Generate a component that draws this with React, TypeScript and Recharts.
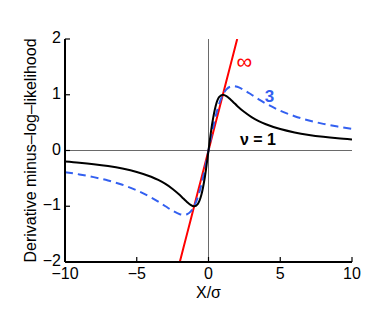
import { LineChart, Line, XAxis, YAxis, ReferenceLine, ReferenceDot } from "recharts";

const FONT = "'Liberation Sans', Arial, Helvetica, sans-serif";

// x positions (X/sigma)
const xs = [-10, -9, -8, -7, -6, -5, -4, -3.5, -3, -2.5, -2, -1.75, -1.5, -1.25, -1, -0.75, -0.5, -0.25, 0,
  0.25, 0.5, 0.75, 1, 1.25, 1.5, 1.75, 2, 2.5, 3, 3.5, 4, 5, 6, 7, 8, 9, 10];

// nu = 1
const nu1 = [-0.198, -0.2195, -0.2462, -0.28, -0.3243, -0.3846, -0.4706, -0.5283, -0.6, -0.6897, -0.8, -0.8615,
  -0.9231, -0.9756, -1, -0.96, -0.8, -0.4706, 0, 0.4706, 0.8, 0.96, 1, 0.9756, 0.9231, 0.8615, 0.8, 0.6897, 0.6,
  0.5283, 0.4706, 0.3846, 0.3243, 0.28, 0.2462, 0.2195, 0.198];

// nu = 3
const nu3 = [-0.3883, -0.4286, -0.4776, -0.5385, -0.6154, -0.7143, -0.8421, -0.918, -1, -1.0811, -1.1429, -1.1546,
  -1.1429, -1.0959, -1, -0.8421, -0.6154, -0.3265, 0, 0.3265, 0.6154, 0.8421, 1, 1.0959, 1.1429, 1.1546, 1.1429,
  1.0811, 1, 0.918, 0.8421, 0.7143, 0.6154, 0.5385, 0.4776, 0.4286, 0.3883];

// nu = infinity (gaussian), only inside the visible range
const nuInf = [null, null, null, null, null, null, null, null, null, null, -2, -1.75, -1.5, -1.25, -1, -0.75, -0.5,
  -0.25, 0, 0.25, 0.5, 0.75, 1, 1.25, 1.5, 1.75, 2, null, null, null, null, null, null, null, null, null, null];

const xTicks = [-10, -5, 0, 5, 10];
const yTicks = [-2, -1, 0, 1, 2];

const data = xs.map((x, i) => ({ x, nu1: nu1[i], nu3: nu3[i], inf: nuInf[i] }));

const fmt = (v: number) => (v < 0 ? "\u2212" + Math.abs(v) : String(v));

const BottomTick = ({ x, y, payload }: any) => (
  <g>
    <line x1={x} x2={x} y1={y} y2={y - 5} stroke="#000" strokeWidth={1.2} />
    <text x={x} y={y + 17} textAnchor="middle" fontSize={16} fontFamily={FONT} fill="#000">
      {fmt(payload.value)}
    </text>
  </g>
);

const TopTick = ({ x, y }: any) => (
  <line x1={x} x2={x} y1={y} y2={y + 5} stroke="#000" strokeWidth={1.2} />
);

const LeftTick = ({ x, y, payload }: any) => (
  <g>
    <line x1={x} x2={x + 5} y1={y} y2={y} stroke="#000" strokeWidth={1.2} />
    <text x={x - 4} y={y + 4} textAnchor="end" fontSize={16} fontFamily={FONT} fill="#000">
      {fmt(payload.value)}
    </text>
  </g>
);

const RightTick = ({ x, y }: any) => (
  <line x1={x} x2={x - 5} y1={y} y2={y} stroke="#000" strokeWidth={1.2} />
);

const axisLine = { stroke: "#000", strokeWidth: 2 };

export default function App() {
  return (
    <div style={{ position: "absolute", left: 0, top: 0 }}>
      <LineChart width={382} height={309} data={data} margin={{ top: 39, right: 30, bottom: 7, left: 5 }}>
        <XAxis
          dataKey="x"
          type="number"
          domain={[-10, 10]}
          ticks={xTicks}
          axisLine={axisLine}
          tickLine={false}
          tickSize={0}
          tickMargin={0}
          tick={<BottomTick />}
          height={40}
          label={{ value: "X/\u03c3", position: "insideBottom", offset: 4, fontSize: 16, fontFamily: FONT, fill: "#000" }}
        />
        <XAxis
          xAxisId="top"
          orientation="top"
          dataKey="x"
          type="number"
          domain={[-10, 10]}
          ticks={xTicks}
          axisLine={axisLine}
          tickLine={false}
          tickSize={0}
          tickMargin={0}
          tick={<TopTick />}
          height={0}
        />
        <YAxis
          type="number"
          domain={[-2, 2]}
          ticks={yTicks}
          allowDataOverflow
          axisLine={axisLine}
          tickLine={false}
          tickSize={0}
          tickMargin={0}
          tick={<LeftTick />}
          width={60}
          label={{
            value: "Derivative minus\u2013log\u2013likelihood",
            angle: -90,
            position: "insideLeft",
            offset: 25,
            style: { textAnchor: "middle" },
            fontSize: 16,
            fontFamily: FONT,
            fill: "#000",
          }}
        />
        <YAxis
          yAxisId="right"
          orientation="right"
          type="number"
          domain={[-2, 2]}
          ticks={yTicks}
          axisLine={axisLine}
          tickLine={false}
          tickSize={0}
          tickMargin={0}
          tick={<RightTick />}
          width={0}
        />
        <ReferenceLine x={0} stroke="#444" strokeWidth={0.8} />
        <ReferenceLine y={0} stroke="#444" strokeWidth={0.8} />
        <Line dataKey="inf" type="linear" stroke="#ff0000" strokeWidth={2} dot={false} isAnimationActive={false} />
        <Line
          dataKey="nu3"
          type="monotone"
          stroke="#3360f0"
          strokeWidth={2}
          strokeDasharray="8 5"
          dot={false}
          isAnimationActive={false}
        />
        <Line dataKey="nu1" type="monotone" stroke="#000" strokeWidth={2} dot={false} isAnimationActive={false} />
        <ReferenceDot
          x={2.5}
          y={1.6}
          r={0}
          label={{ value: "\u221e", position: "center", fontSize: 22, fontFamily: FONT, fill: "#ff0000" }}
        />
        <ReferenceDot
          x={4.25}
          y={0.97}
          r={0}
          label={{ value: "3", position: "center", fontSize: 17, fontWeight: "bold", fontFamily: FONT, fill: "#3360f0" }}
        />
        <ReferenceDot
          x={3.45}
          y={0.2}
          r={0}
          label={{ value: "\u03bd = 1", position: "center", fontSize: 16, fontWeight: "bold", fontFamily: FONT, fill: "#000" }}
        />
      </LineChart>
    </div>
  );
}
